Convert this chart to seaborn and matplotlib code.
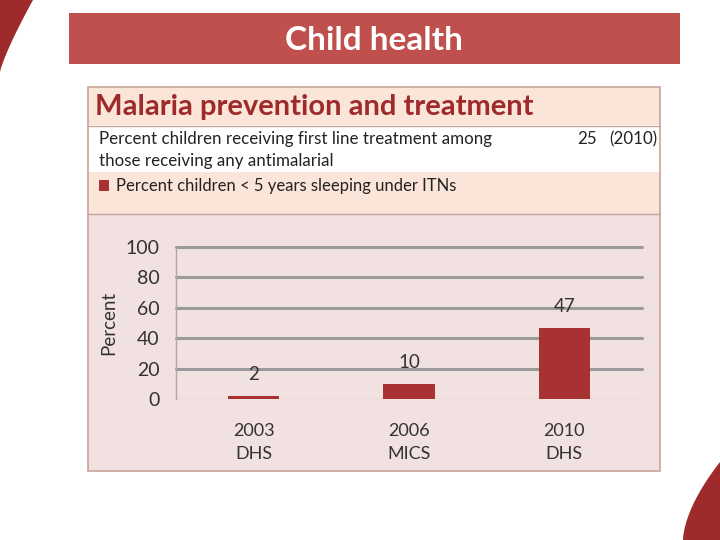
import matplotlib
matplotlib.use("Agg")
import matplotlib.pyplot as plt
import matplotlib.patches as mpatches
import numpy as np
import pandas as pd
import seaborn as sns

# ---- data ----
surveys = ["2003\nDHS", "2006\nMICS", "2010\nDHS"]
itn_values = [2, 10, 47]
y_ticks = [0, 20, 40, 60, 80, 100]
title_text = "Child health"
panel_title = "Malaria prevention and treatment"
row1_line1 = "Percent children receiving first line treatment among"
row1_line2 = "those receiving any antimalarial"
row1_value = "25"
row1_year = "(2010)"
legend_text = "Percent children < 5 years sleeping under ITNs"

W, H = 720, 540
sns.set_theme(style="white")
plt.rcParams["font.family"] = ["Lato", "DejaVu Sans"]

fig = plt.figure(figsize=(W / 100, H / 100), dpi=100)
fig.patch.set_facecolor("white")

def px_rect(x0, y0, x1, y1, **kw):
    r = mpatches.Rectangle((x0 / W, 1 - y1 / H), (x1 - x0) / W, (y1 - y0) / H,
                           transform=fig.transFigure, zorder=-5, **kw)
    fig.patches.append(r)
    return r

def px_text(x, y, s, **kw):
    fig.text(x / W, 1 - y / H, s, **kw)

dark_red = "#9E2A2B"
bar_red = "#A83232"

# decorative curves
t = np.linspace(0, 1, 60)
xs = 33 * (1 - t) ** 1.2
ys = 72 * t
poly = [(0, 0)] + list(zip(xs, ys)) + [(0, 72)]
fig.patches.append(mpatches.Polygon([(x / W, 1 - y / H) for x, y in poly],
                                    closed=True, transform=fig.transFigure,
                                    facecolor=dark_red, edgecolor="none", zorder=-5))
xs2 = 683 + 37 * t ** 1.4
ys2 = 540 - 78 * t ** 0.85
poly2 = list(zip(xs2, ys2)) + [(720, 540)]
fig.patches.append(mpatches.Polygon([(x / W, 1 - y / H) for x, y in poly2],
                                    closed=True, transform=fig.transFigure,
                                    facecolor=dark_red, edgecolor="none", zorder=-5))

# title banner
px_rect(69, 13, 680, 64, facecolor="#C0504D", edgecolor="none")
px_text(374, 40, title_text, color="white", fontsize=24, fontweight="bold",
        ha="center", va="center")

# panel
px_rect(88, 87, 660, 125, facecolor="#FBE5D9", edgecolor="none")
px_rect(88, 125, 660, 172, facecolor="white", edgecolor="none")
px_rect(88, 172, 660, 213, facecolor="#FBE5D9", edgecolor="none")
px_rect(88, 213, 660, 471, facecolor="#F2E1E1", edgecolor="none")
px_rect(88, 87, 660, 471, facecolor="none", edgecolor="#C9A49A", linewidth=1.2)
for yy in (125.5, 213.5):
    fig.lines.append(plt.Line2D([88 / W, 660 / W], [1 - yy / H] * 2,
                                transform=fig.transFigure, color="#C9A49A", lw=1,
                                zorder=-4))

px_text(95, 107, panel_title, color="#9E2A2B", fontsize=21, fontweight="bold",
        ha="left", va="center")
px_text(99, 139, row1_line1, color="#222222", fontsize=12.2, ha="left", va="center")
px_text(99, 161, row1_line2, color="#222222", fontsize=12.2, ha="left", va="center")
px_text(597, 139, row1_value, color="#222222", fontsize=12.2, ha="right", va="center")
px_text(657, 139, row1_year, color="#222222", fontsize=12.2, ha="right", va="center")
px_rect(99, 180, 109, 191, facecolor=bar_red, edgecolor="none")
px_text(116, 186, legend_text, color="#222222", fontsize=12, ha="left", va="center")

# chart axes
ax_l, ax_r, ax_t, ax_b = 176, 642, 247, 399
ax = fig.add_axes([ax_l / W, 1 - ax_b / H, (ax_r - ax_l) / W, (ax_b - ax_t) / H])
ax.set_zorder(2)
ax.set_facecolor("none")
df = pd.DataFrame({"survey": surveys, "value": itn_values})
sns.barplot(data=df, x="survey", y="value", color=bar_red, saturation=1,
            width=0.33, ax=ax, zorder=3, edgecolor="none", linewidth=0)
ax.set_ylim(0, 100)
ax.set_yticks(y_ticks)
for yv in y_ticks[1:]:
    ax.axhline(yv, color="#9A9A9A", lw=2.2, zorder=1, clip_on=False)
ax.axhline(0, color="#C8C0C0", lw=1, zorder=1)
for s in ["top", "right", "bottom"]:
    ax.spines[s].set_visible(False)
ax.spines["left"].set_color("#B0A8A8")
ax.spines["left"].set_linewidth(1)
ax.tick_params(axis="y", labelsize=14, length=0, pad=12, colors="#333333")
ax.tick_params(axis="x", labelsize=13, length=0, pad=17, colors="#333333")
for lbl in ax.get_xticklabels():
    lbl.set_linespacing(1.6)
ax.set_xlabel("")
ax.set_ylabel("Percent", fontsize=13.5, color="#333333", labelpad=6)
for i, v in enumerate(itn_values):
    ax.annotate(str(v), (i, v), xytext=(0, 21), textcoords="offset pixels",
                ha="center", va="center", fontsize=13.5, color="#333333")

fig.savefig("out.png", dpi=100, facecolor="white")
